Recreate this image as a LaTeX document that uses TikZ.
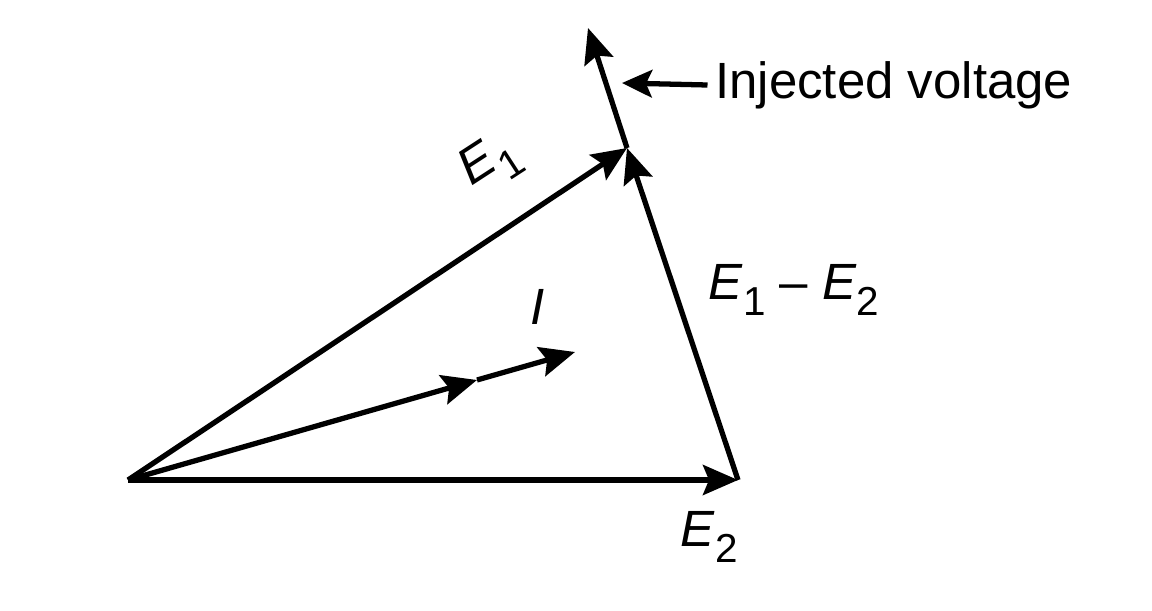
\documentclass[tikz,border=0pt]{standalone}
\usepackage{fontspec}
\setmainfont{Liberation Sans}
\usetikzlibrary{arrows.meta}

\newcommand{\vname}[2]{\textit{#1}\raisebox{-0.32em}{\fontsize{23}{24}\selectfont #2}}

\begin{document}
\begin{tikzpicture}[
    vec/.style={line width=3pt, -{Stealth[length=7mm, width=6mm, inset=1.2mm]}},
    lbl/.style={font=\fontsize{29}{32}\selectfont, inner sep=0pt}
]

\useasboundingbox (0,0) rectangle (23.04,12.2);

% --- Puntos del diagrama ---
\coordinate (O) at (2.56,2.6);
\coordinate (E2) at (14.76,2.6);
\coordinate (E1) at (12.54,9.24);
\coordinate (Vinj) at (11.76,11.64);
\coordinate (Imid) at (9.54,4.6);
\coordinate (Iend) at (11.5,5.16);
\coordinate (injtip) at (12.44,10.54);

% --- Fasores ---
\draw[vec] (O) -- (E2);
\draw[vec] (O) -- (E1);
\draw[vec] (E2) -- (E1);
\draw[vec] (E1) -- (Vinj);
\draw[vec] (O) -- (Imid);
\draw[vec] (Imid) -- (Iend);

% --- Etiquetas ---
\node[lbl, rotate=33] (lE1) at (9.8,8.94) {\vname{E}{1}};
\node[lbl] (lE2) at (14.18,1.46) {\vname{E}{2}};
\node[lbl] (lE12) at (15.88,6.4) {\vname{E}{1} -- \vname{E}{2}};
\node[lbl] (lI) at (10.76,6.06) {\textit{I}};
\node[lbl, anchor=west] (inj) at (14.3,10.5) {Injected voltage};

\draw[line width=3pt, -{Stealth[length=6mm, width=5.5mm, inset=1.2mm]}] ([xshift=-1.5mm]inj.west) -- (injtip);

\end{tikzpicture}
\end{document}
